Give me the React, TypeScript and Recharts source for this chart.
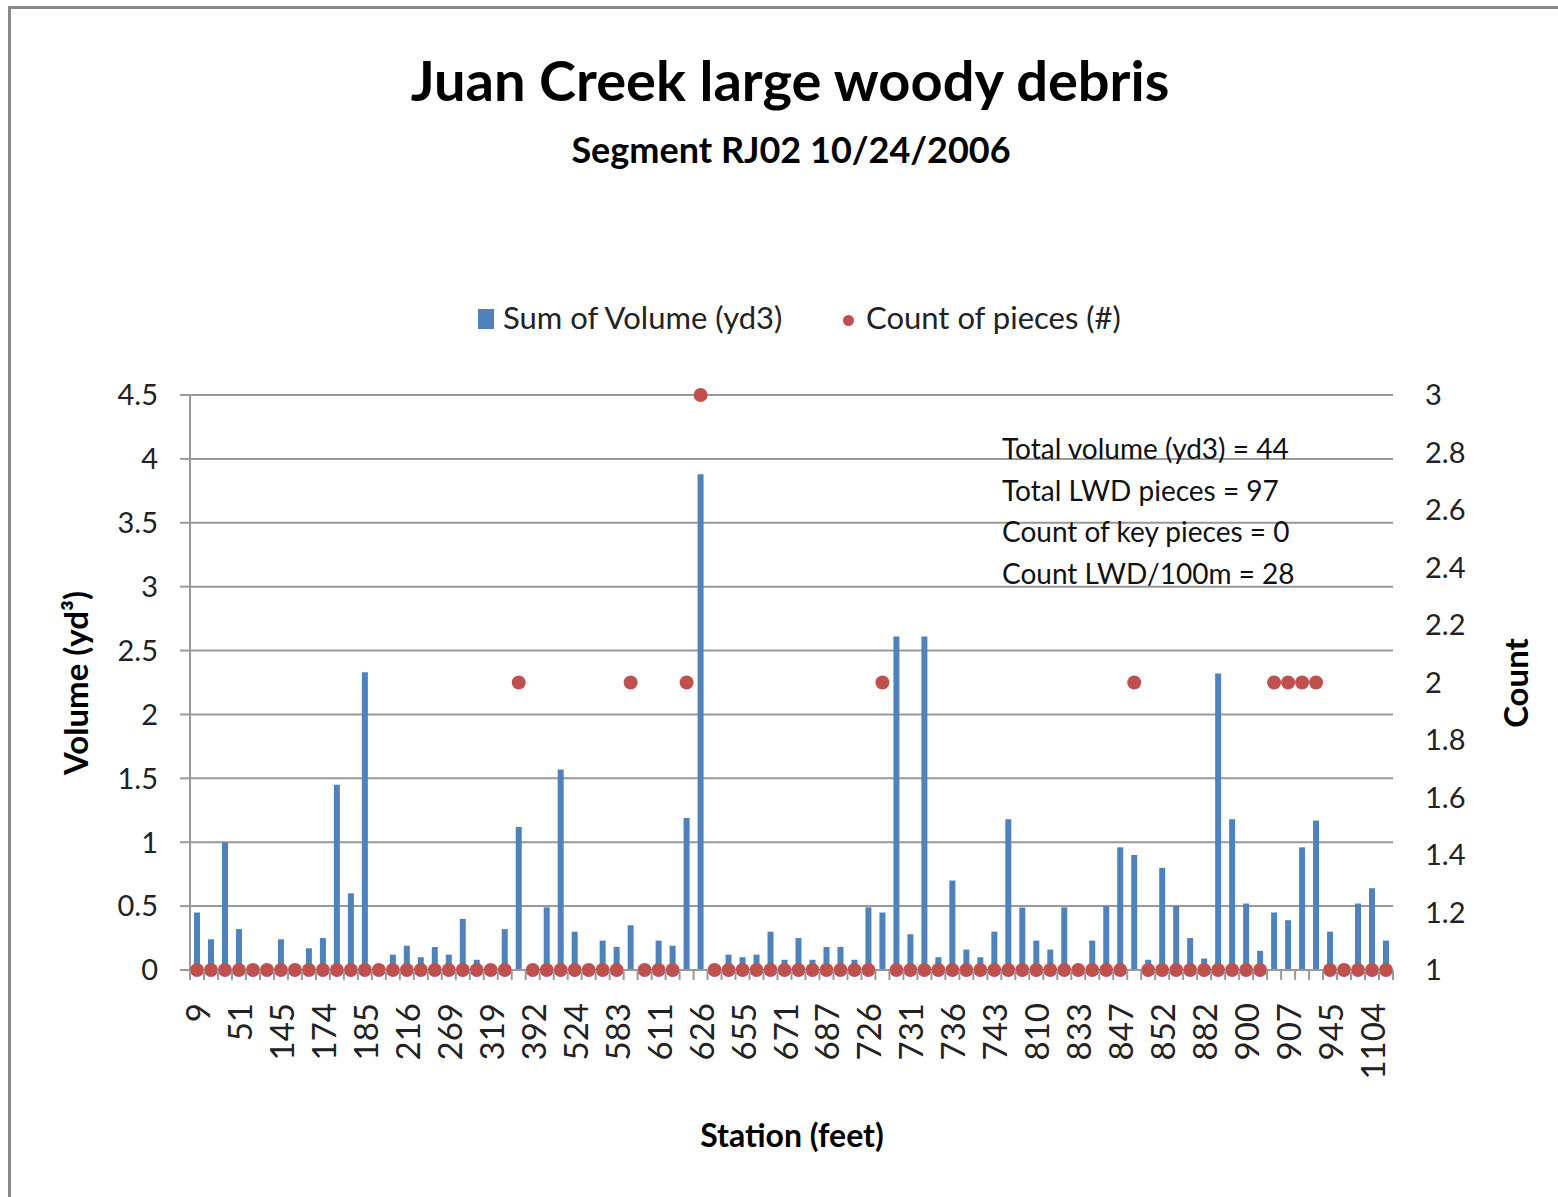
import React from 'react';
import { ComposedChart, Bar, Scatter, XAxis, YAxis, CartesianGrid } from 'recharts';

// Station (feet) for each surveyed location; only every third one is labelled on the axis
const stations = [
  9, 22, 38, 51, 84, 117, 145, 156, 167, 174, 178, 182, 185, 195, 206, 216, 234, 252,
  269, 286, 303, 319, 345, 368, 392, 436, 480, 524, 544, 564, 583, 592, 602, 611, 616, 621,
  626, 636, 646, 655, 660, 666, 671, 676, 682, 687, 700, 713, 726, 728, 729, 731, 733, 734,
  736, 738, 740, 743, 765, 788, 810, 818, 826, 833, 838, 843, 847, 849, 850, 852, 862, 872,
  882, 888, 894, 900, 903, 905, 907, 920, 933, 945, 998, 1051, 1104, 1130,
];

// Sum of volume (yd3) per station
const volumes = [
  0.45, 0.24, 1.0, 0.32, 0.04, 0.02, 0.24, 0.04, 0.17, 0.25, 1.45, 0.6, 2.33, 0.02, 0.12, 0.19, 0.1, 0.18,
  0.12, 0.4, 0.08, 0.02, 0.32, 1.12, 0.02, 0.49, 1.57, 0.3, 0.04, 0.23, 0.18, 0.35, 0.02, 0.23, 0.19, 1.19,
  3.88, 0.02, 0.12, 0.1, 0.12, 0.3, 0.08, 0.25, 0.08, 0.18, 0.18, 0.08, 0.49, 0.45, 2.61, 0.28, 2.61, 0.1,
  0.7, 0.16, 0.1, 0.3, 1.18, 0.49, 0.23, 0.16, 0.49, 0.02, 0.23, 0.5, 0.96, 0.9, 0.08, 0.8, 0.5, 0.25,
  0.09, 2.32, 1.18, 0.52, 0.15, 0.45, 0.39, 0.96, 1.17, 0.3, 0.02, 0.52, 0.64, 0.23,
];

// Count of pieces per station
const counts = [
  1, 1, 1, 1, 1, 1, 1, 1, 1, 1, 1, 1, 1, 1, 1, 1, 1, 1,
  1, 1, 1, 1, 1, 2, 1, 1, 1, 1, 1, 1, 1, 2, 1, 1, 1, 2,
  3, 1, 1, 1, 1, 1, 1, 1, 1, 1, 1, 1, 1, 2, 1, 1, 1, 1,
  1, 1, 1, 1, 1, 1, 1, 1, 1, 1, 1, 1, 1, 2, 1, 1, 1, 1,
  1, 1, 1, 1, 1, 2, 2, 2, 2, 1, 1, 1, 1, 1,
];

const volumeTicks = [0, 0.5, 1, 1.5, 2, 2.5, 3, 3.5, 4, 4.5];
const countTicks = [1, 1.2, 1.4, 1.6, 1.8, 2, 2.2, 2.4, 2.6, 2.8, 3];

const summaryLines = [
  'Total volume (yd3) = 44',
  'Total LWD pieces = 97',
  'Count of key pieces = 0',
  'Count LWD/100m = 28',
];

const data = stations.map((s, i) => ({ station: String(s), volume: volumes[i], count: counts[i] }));

const FONT = 'Lato, "Open Sans", sans-serif';
const BLUE = '#4F81BD';
const RED = '#C0504D';

const StationTick = (props: any) => {
  const { x, y, payload, index } = props;
  const half = 7;
  return (
    <g>
      <line x1={x - half} y1={y} x2={x - half} y2={y + 10} stroke="#999" strokeWidth={2} />
      {index === data.length - 1 && (
        <line x1={x + half} y1={y} x2={x + half} y2={y + 10} stroke="#999" strokeWidth={2} />
      )}
      {index % 3 === 0 && (
        <text
          x={x}
          y={y + 33}
          transform={`rotate(-90 ${x} ${y + 33})`}
          textAnchor="end"
          dominantBaseline="central"
          fontSize={33}
          fontFamily={FONT}
          fill="#222"
        >
          {payload.value}
        </text>
      )}
    </g>
  );
};

const DotShape = (props: any) => <circle cx={props.cx} cy={props.cy} r={7} fill={RED} />;

export default function App() {
  return (
    <div style={{ position: 'absolute', left: 0, top: 0, width: 1558, height: 1197, overflow: 'hidden', background: '#fff', fontFamily: FONT }}>
      <div style={{ position: 'absolute', left: 8, top: 6, width: 1600, height: 1300, border: '3px solid #888', boxSizing: 'border-box' }} />

      <div style={{ position: 'absolute', left: 0, width: 1580, top: 52, textAlign: 'center', fontSize: 56, fontWeight: 700, lineHeight: 1, color: '#000' }}>
        Juan Creek large woody debris
      </div>
      <div style={{ position: 'absolute', left: 0, width: 1582, top: 131, textAlign: 'center', fontSize: 36, fontWeight: 700, lineHeight: 1, color: '#000' }}>
        Segment RJ02 10/24/2006
      </div>

      {/* legend */}
      <div style={{ position: 'absolute', left: 478, top: 309, width: 16, height: 20, background: BLUE }} />
      <div style={{ position: 'absolute', left: 503, top: 302, fontSize: 31, lineHeight: 1, color: '#222' }}>Sum of Volume (yd3)</div>
      <div style={{ position: 'absolute', left: 843, top: 315, width: 11, height: 11, borderRadius: '50%', background: RED }} />
      <div style={{ position: 'absolute', left: 866, top: 302, fontSize: 31, lineHeight: 1, color: '#222' }}>Count of pieces (#)</div>

      <ComposedChart
        width={1558}
        height={1197}
        data={data}
        margin={{ top: 395, right: 0, bottom: 0, left: 0 }}
        barCategoryGap={0}
      >
        <CartesianGrid yAxisId="left" vertical={false} stroke="#999" strokeWidth={2} />
        <XAxis
          dataKey="station"
          interval={0}
          height={227}
          tickSize={0}
          tickMargin={0}
          tickLine={false}
          axisLine={{ stroke: '#999', strokeWidth: 2 }}
          tick={<StationTick />}
        />
        <YAxis
          yAxisId="left"
          width={190}
          domain={[0, 4.5]}
          ticks={volumeTicks}
          tickSize={10}
          tickMargin={22}
          tickLine={{ stroke: '#999', strokeWidth: 2 }}
          axisLine={{ stroke: '#999', strokeWidth: 2 }}
          tick={{ fontSize: 29, fill: '#222', fontFamily: FONT }}
        />
        <YAxis
          yAxisId="right"
          orientation="right"
          width={165}
          domain={[1, 3]}
          ticks={countTicks}
          tickFormatter={(v: number) => String(Math.round(v * 10) / 10)}
          tickSize={0}
          tickMargin={32}
          tickLine={false}
          axisLine={false}
          tick={{ fontSize: 29, fill: '#222', fontFamily: FONT }}
        />
        <Bar yAxisId="left" dataKey="volume" fill={BLUE} barSize={6} isAnimationActive={false} />
        <Scatter yAxisId="right" dataKey="count" fill={RED} shape={<DotShape />} isAnimationActive={false} />
      </ComposedChart>

      {/* summary box */}
      {summaryLines.map((t, i) => (
        <div key={t} style={{ position: 'absolute', left: 1002, top: 434 + i * 41.7, fontSize: 28, lineHeight: 1, color: '#111', whiteSpace: 'nowrap' }}>
          {t}
        </div>
      ))}

      {/* axis titles */}
      <div style={{ position: 'absolute', left: 75, top: 683, transform: 'translate(-50%, -50%) rotate(-90deg)', fontSize: 33, fontWeight: 700, whiteSpace: 'nowrap', color: '#000' }}>
        Volume (yd³)
      </div>
      <div style={{ position: 'absolute', left: 1515, top: 683, transform: 'translate(-50%, -50%) rotate(-90deg)', fontSize: 33, fontWeight: 700, whiteSpace: 'nowrap', color: '#000' }}>
        Count
      </div>
      <div style={{ position: 'absolute', left: 792, top: 1134, transform: 'translate(-50%, -50%)', fontSize: 32, fontWeight: 700, whiteSpace: 'nowrap', color: '#000' }}>
        Station (feet)
      </div>
    </div>
  );
}
